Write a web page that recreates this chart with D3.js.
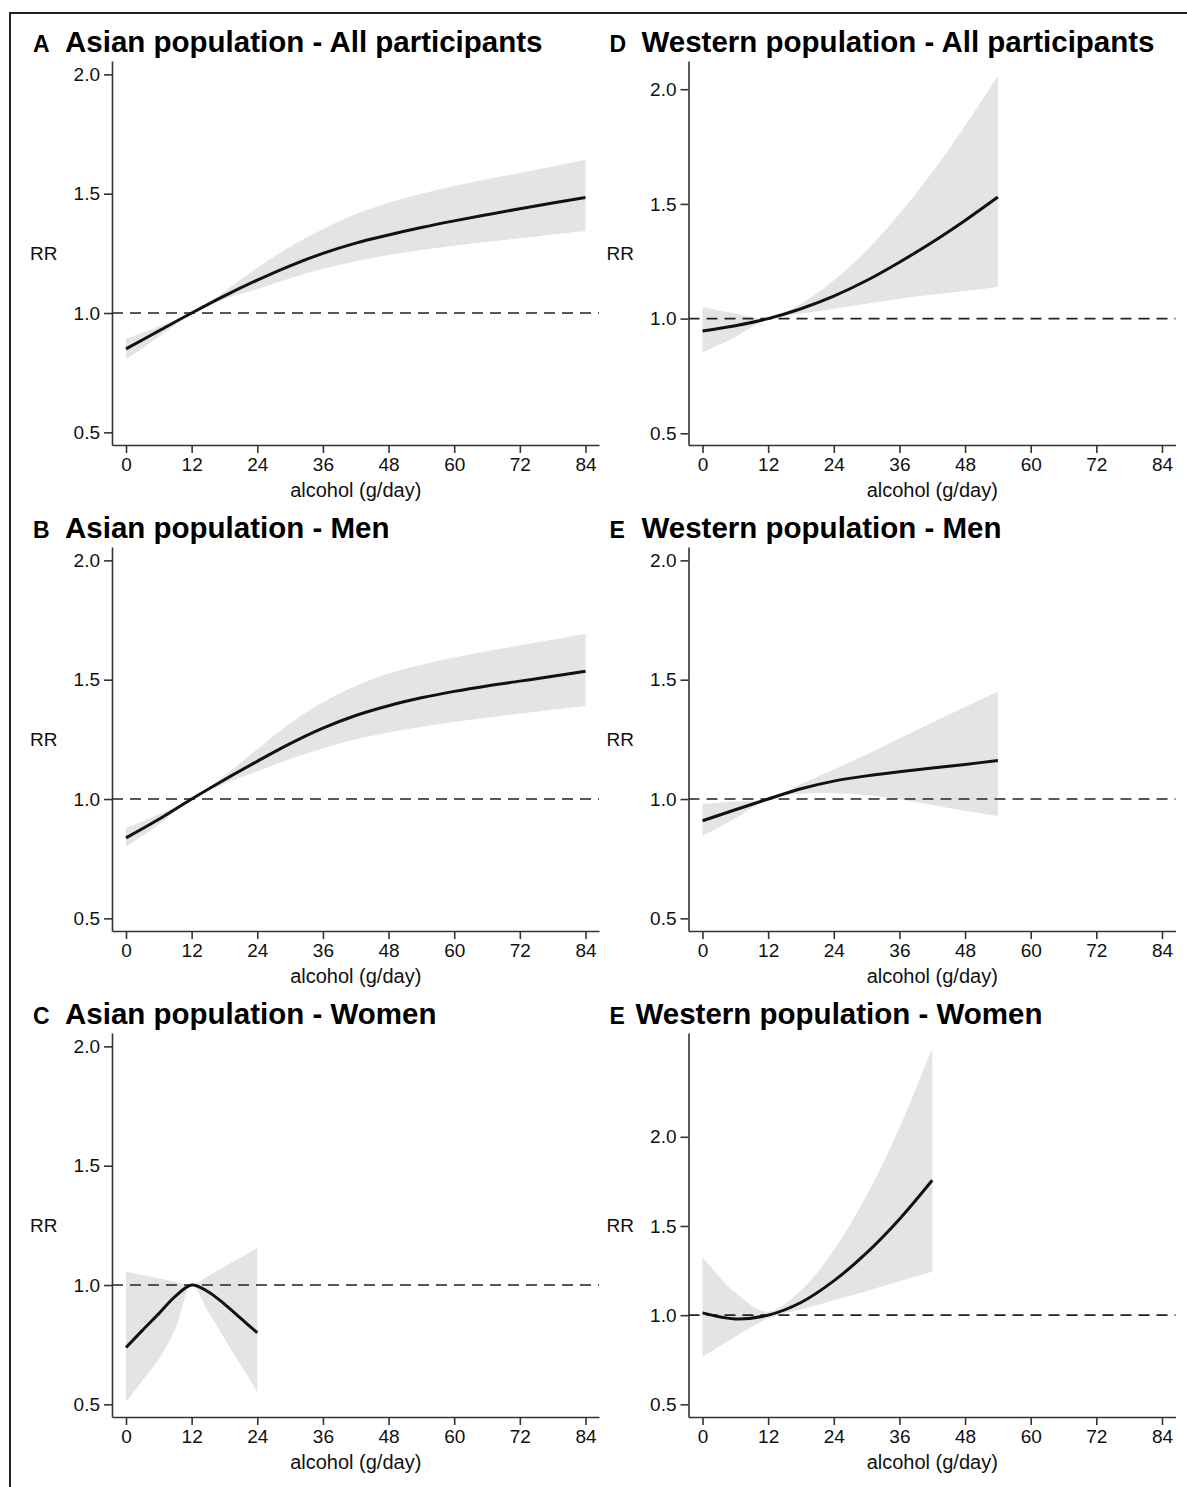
<!DOCTYPE html>
<meta charset="utf-8">
<script src="https://d3js.org/d3.v7.min.js"></script>
<style>
  body { margin: 0; background: #fff; }
</style>
<div id="chart"></div>
<script>

// alcohol doses (g/day) at which the curves were read
var dose84 = [0, 6, 12, 18, 24, 30, 36, 42, 48, 54, 60, 66, 72, 78, 84];
var dose54 = [0, 6, 12, 18, 24, 30, 36, 42, 48, 54];
var dose42 = [0, 6, 12, 18, 24, 30, 36, 42];
var dose24 = [0, 3, 6, 9, 12, 15, 18, 21, 24];

// A - Asian, all participants
var asiaAllRR = [0.85, 0.925, 1.0, 1.072, 1.138, 1.198, 1.25, 1.293, 1.327, 1.358, 1.386, 1.412, 1.437, 1.461, 1.484];
var asiaAllLo = [0.806, 0.90, 1.0, 1.058, 1.10, 1.146, 1.185, 1.217, 1.243, 1.264, 1.282, 1.298, 1.313, 1.329, 1.344];
var asiaAllHi = [0.893, 0.944, 1.0, 1.09, 1.19, 1.278, 1.352, 1.414, 1.462, 1.5, 1.532, 1.56, 1.587, 1.614, 1.642];

// B - Asian, men
var asiaMenRR = [0.837, 0.915, 1.0, 1.081, 1.158, 1.232, 1.297, 1.35, 1.391, 1.424, 1.451, 1.474, 1.494, 1.514, 1.535];
var asiaMenLo = [0.80, 0.893, 1.0, 1.064, 1.116, 1.168, 1.212, 1.25, 1.279, 1.303, 1.323, 1.341, 1.358, 1.374, 1.391];
var asiaMenHi = [0.878, 0.936, 1.0, 1.098, 1.209, 1.318, 1.405, 1.474, 1.526, 1.563, 1.593, 1.619, 1.643, 1.668, 1.693];

// C - Asian, women
var asiaWomRR = [0.738, 0.81, 0.88, 0.952, 1.0, 0.972, 0.92, 0.86, 0.80];
var asiaWomLo = [0.51, 0.60, 0.69, 0.815, 1.0, 0.89, 0.776, 0.664, 0.552];
var asiaWomHi = [1.056, 1.042, 1.028, 1.014, 1.0, 1.038, 1.077, 1.115, 1.154];

// D - Western, all participants
var westAllRR = [0.946, 0.969, 1.0, 1.043, 1.098, 1.166, 1.246, 1.333, 1.428, 1.53];
var westAllLo = [0.853, 0.92, 1.0, 1.022, 1.043, 1.065, 1.087, 1.104, 1.12, 1.138];
var westAllHi = [1.051, 1.022, 1.0, 1.065, 1.167, 1.297, 1.457, 1.638, 1.841, 2.058];

// E - Western, men
var westMenRR = [0.909, 0.955, 1.0, 1.043, 1.075, 1.097, 1.114, 1.13, 1.145, 1.161];
var westMenLo = [0.845, 0.919, 1.0, 1.022, 1.024, 1.017, 0.999, 0.975, 0.951, 0.929];
var westMenHi = [0.979, 0.99, 1.0, 1.063, 1.124, 1.187, 1.254, 1.321, 1.386, 1.451];

// E (second) - Western, women
var westWomRR = [1.013, 0.979, 1.0, 1.071, 1.192, 1.349, 1.538, 1.756];
var westWomLo = [0.767, 0.879, 0.981, 1.032, 1.084, 1.136, 1.19, 1.243];
var westWomHi = [1.326, 1.125, 1.019, 1.14, 1.364, 1.672, 2.05, 2.498];

var xTicks = [0, 12, 24, 36, 48, 60, 72, 84];
var yTicks = [0.5, 1.0, 1.5, 2.0];

var panels = [
  {letter: "A", title: "Asian population - All participants", col: 0, row: 0, yLo: 0.447, yHi: 2.056, dose: dose84, rr: asiaAllRR, lo: asiaAllLo, hi: asiaAllHi},
  {letter: "B", title: "Asian population - Men", col: 0, row: 1, yLo: 0.447, yHi: 2.056, dose: dose84, rr: asiaMenRR, lo: asiaMenLo, hi: asiaMenHi},
  {letter: "C", title: "Asian population - Women", col: 0, row: 2, yLo: 0.447, yHi: 2.056, dose: dose24, rr: asiaWomRR, lo: asiaWomLo, hi: asiaWomHi},
  {letter: "D", title: "Western population - All participants", col: 1, row: 0, yLo: 0.449, yHi: 2.123, dose: dose54, rr: westAllRR, lo: westAllLo, hi: westAllHi},
  {letter: "E", title: "Western population - Men", col: 1, row: 1, yLo: 0.447, yHi: 2.056, dose: dose54, rr: westMenRR, lo: westMenLo, hi: westMenHi},
  {letter: "E", title: "Western population - Women", col: 1, row: 2, yLo: 0.429, yHi: 2.582, dose: dose42, rr: westWomRR, lo: westWomLo, hi: westWomHi, tight: true}
];

var width = 1187, height = 1487;
var colStep = 576.5, rowStep = 486;

var svg = d3.select("#chart")
  .append("svg")
    .attr("width", width)
    .attr("height", height)
    .style("font-family", "'Liberation Sans', Arial, Helvetica, sans-serif");

// figure frame (top and left edges only)
svg.append("path")
  .attr("d", "M10," + height + "V13H" + width)
  .attr("fill", "none")
  .attr("stroke", "#222")
  .attr("stroke-width", 2);

var smooth = d3.curveCatmullRom.alpha(0.5);

panels.forEach(function(p) {
  var ox = p.col * colStep, oy = p.row * rowStep;

  var x = d3.scaleLinear()
    .domain([-2.56, 86.47])
    .range([112 + ox, 599 + ox]);
  var y = d3.scaleLinear()
    .domain([p.yLo, p.yHi])
    .range([445 + oy, 61 + oy]);

  var pts = p.dose.map(function(d, i) {
    return {d: d, rr: p.rr[i], lo: p.lo[i], hi: p.hi[i]};
  });

  var g = svg.append("g");

  // confidence band
  g.append("path")
    .datum(pts)
    .attr("fill", "#e4e4e4")
    .attr("d", d3.area()
      .x(function(d) { return x(d.d); })
      .y0(function(d) { return y(d.lo); })
      .y1(function(d) { return y(d.hi); })
      .curve(smooth));

  // reference line RR = 1
  g.append("line")
    .attr("x1", x.range()[0]).attr("x2", x.range()[1])
    .attr("y1", y(1)).attr("y2", y(1))
    .attr("stroke", "#222")
    .attr("stroke-width", 1.6)
    .attr("stroke-dasharray", "11,7");

  // dose-response curve
  g.append("path")
    .datum(pts)
    .attr("fill", "none")
    .attr("stroke", "#111")
    .attr("stroke-width", 3)
    .attr("d", d3.line()
      .x(function(d) { return x(d.d); })
      .y(function(d) { return y(d.rr); })
      .curve(smooth));

  // Y axis
  var ya = g.append("g")
    .attr("transform", "translate(" + x.range()[0] + ",0)")
    .call(d3.axisLeft(y).tickValues(yTicks).tickFormat(d3.format(".1f"))
      .tickSize(8).tickPadding(4).tickSizeOuter(0));
  // X axis
  var xa = g.append("g")
    .attr("transform", "translate(0," + y.range()[0] + ")")
    .call(d3.axisBottom(x).tickValues(xTicks)
      .tickSize(8).tickPadding(5).tickSizeOuter(0));

  [ya, xa].forEach(function(a) {
    a.attr("font-family", null).attr("font-size", 19);
    a.select(".domain").attr("stroke", "#333").attr("stroke-width", 1.6);
    a.selectAll(".tick line").attr("stroke", "#333").attr("stroke-width", 1.6);
    a.selectAll(".tick text").attr("fill", "#111");
  });

  // axis titles
  g.append("text")
    .attr("x", 30 + ox)
    .attr("y", 260 + oy)
    .attr("font-size", 19)
    .attr("fill", "#111")
    .text("RR");
  g.append("text")
    .attr("x", (x(0) + x(84)) / 2)
    .attr("y", 497 + oy)
    .attr("text-anchor", "middle")
    .attr("font-size", 20)
    .attr("fill", "#111")
    .text("alcohol (g/day)");

  // panel letter and title
  g.append("text")
    .attr("x", 33 + ox)
    .attr("y", 52 + oy)
    .attr("font-size", 23)
    .attr("font-weight", "bold")
    .text(p.letter);
  g.append("text")
    .attr("x", (p.tight ? 59 : 65) + ox)
    .attr("y", 52 + oy)
    .attr("font-size", 29.5)
    .attr("font-weight", "bold")
    .text(p.title);
});

</script>
